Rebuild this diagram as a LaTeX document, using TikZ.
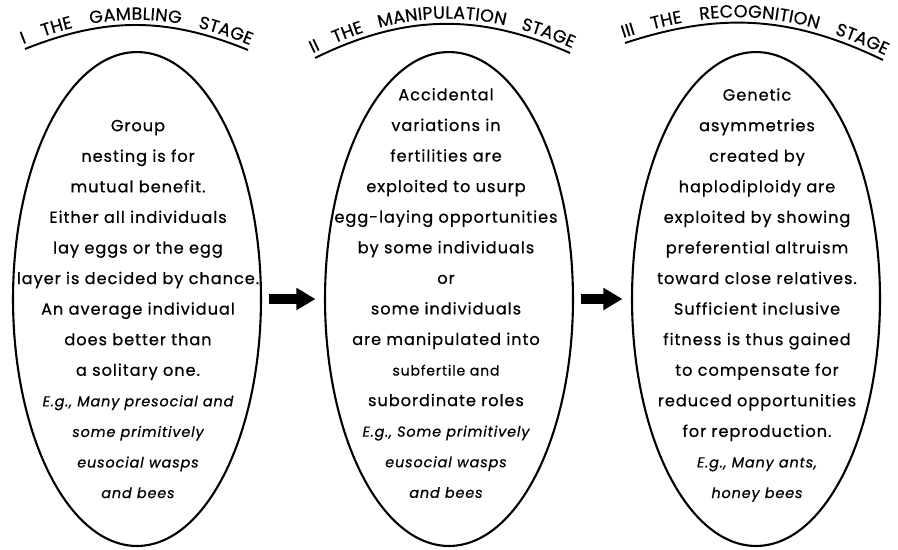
\documentclass[tikz,border=0pt]{standalone}
\usepackage{fontspec}
\setmainfont{Poppins}[LetterSpace=6,FakeBold=0.6]
\newfontfamily\headfamily{Poppins}[LetterSpace=8,FakeBold=0.5]
\usetikzlibrary{shapes.geometric,arrows.meta,decorations.text}
\newcommand\headfont{\headfamily\fontsize{10}{12}\selectfont}
\newcommand\exmp[1]{{\fontsize{8.2}{17.4}\selectfont\itshape #1}}
\tikzset{
  stage/.style={ellipse,draw,line width=1.2pt,minimum width=4.96cm,minimum height=9.88cm,inner sep=0pt},
  stagetext/.style={align=center,inner sep=0pt,font=\fontsize{9.2}{17.4}\selectfont},
  flow/.style={line width=0.2cm,-{Triangle[length=0.38cm,width=0.42cm]},shorten <=0.13cm,shorten >=0.17cm},
  heading/.style={line width=1.1pt,postaction={decorate,decoration={text along path,raise=3pt,
      text align=fit to path stretching spaces,text={|\headfont|#1}}}},
}

\begin{document}
\begin{tikzpicture}[x=0.02cm,y=-0.02cm]
                        \useasboundingbox (0,0) rectangle (898,549);
                        \draw[heading={I THE GAMBLING STAGE}] (25,49) to[bend left=22] (248,50);
                        \draw[heading={II THE MANIPULATION STAGE}] (315,58) to[bend left=25] (570,53);
                        \draw[heading={III THE RECOGNITION STAGE}] (625,43) to[bend left=22] (883,60);
                        \node[stage] (gam) at (137,299) {};
                        \node[stage] (man) at (449,299) {};
                        \node[stage] (rec) at (756,299) {};
                        \node[stagetext] (gamtxt) at (138,309) {Group\\nesting is for\\mutual benefit.\\Either all individuals\\lay eggs or the egg\\layer is decided by chance.\\An average individual\\does better than\\a solitary one.\\\exmp{E.g., Many presocial and}\\\exmp{some primitively}\\\exmp{eusocial wasps}\\\exmp{and bees}};
                        \node[stagetext] (mantxt) at (446,293) {Accidental\\variations in\\fertilities are\\exploited to usurp\\egg-laying opportunities\\by some individuals\\or\\some individuals\\are manipulated into\\{\fontsize{8}{17.4}\selectfont subfertile and}\\subordinate roles\\\exmp{E.g., Some primitively}\\\exmp{eusocial wasps}\\\exmp{and bees}};
                        \node[stagetext] (rectxt) at (757,295) {Genetic\\asymmetries\\created by\\haplodiploidy are\\exploited by showing\\preferential altruism\\toward close relatives.\\Sufficient inclusive\\fitness is thus gained\\to compensate for\\reduced opportunities\\for reproduction.\\\exmp{E.g., Many ants,}\\\exmp{honey bees}};
                        \draw[flow] (gam) -- (man);
                        \draw[flow] (man) -- (rec);
                    \end{tikzpicture}
\end{document}
